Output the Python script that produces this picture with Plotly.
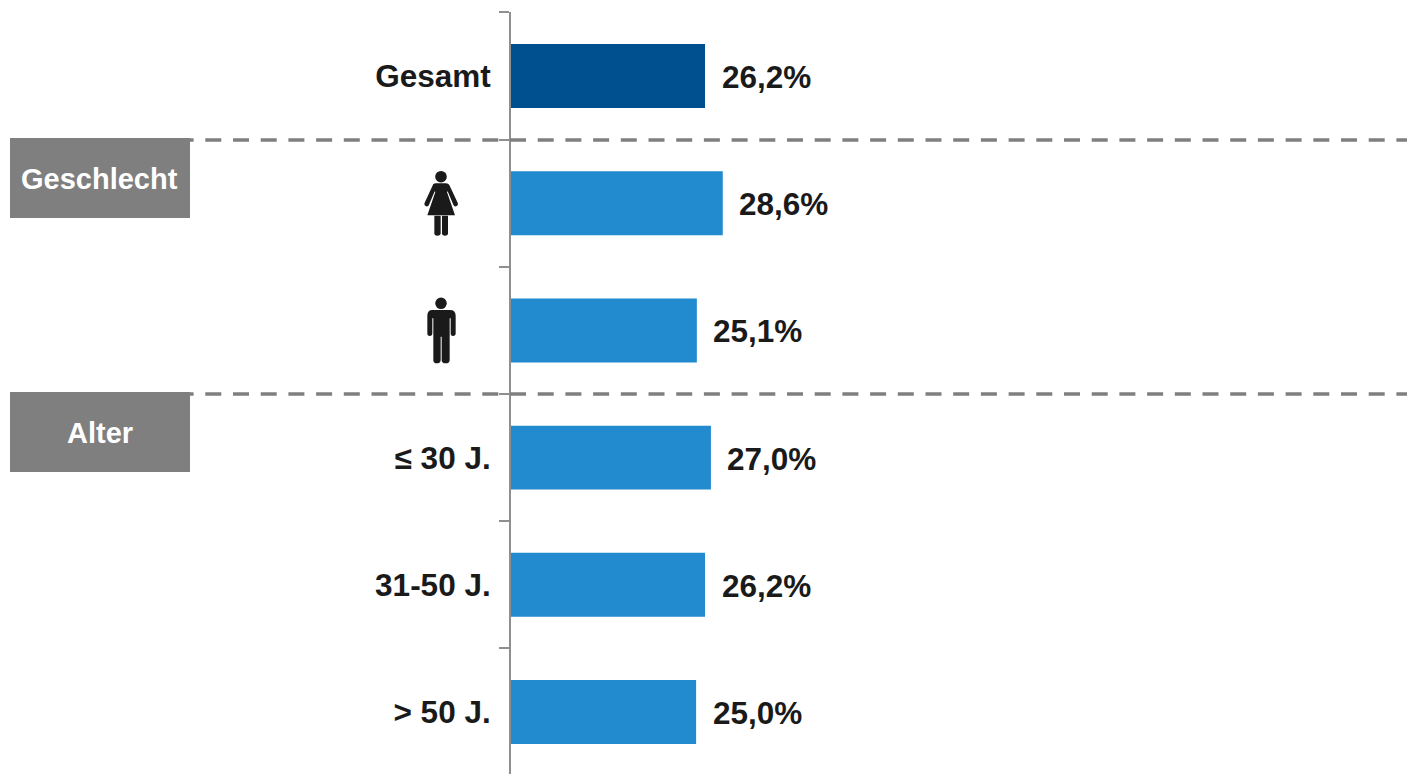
import re
import plotly.graph_objects as go

W, H = 1407, 774
categories = ["Gesamt", "Frauen", "Männer", "≤ 30 J.", "31-50 J.", "> 50 J."]
tick_labels = ["Gesamt", "", "", "≤ 30 J.", "31-50 J.", "> 50 J."]
values = [26.2, 28.6, 25.1, 27.0, 26.2, 25.0]
value_labels = ["26,2%", "28,6%", "25,1%", "27,0%", "26,2%", "25,0%"]
bar_colors = ["#00508f", "#228bcf", "#228bcf", "#228bcf", "#228bcf", "#228bcf"]
group_names = ["Geschlecht", "Alter"]

FONT = "Liberation Sans"
TEXT = "#1a1a1a"
GREY = "#7f7f7f"
AXIS = "#8f8f8f"


def px(x):
    return x / W


def py(y):
    return 1 - y / H


def icon_path(d, ox=400, oy=150, s=3):
    """Convert a path drawn in crop pixels to paper coordinates."""
    nums = iter(re.findall(r"[A-Z]|[\d.]+", d))
    out = []
    is_x = True
    for tok in nums:
        if tok.isalpha():
            out.append(tok)
            is_x = True
        elif is_x:
            out.append(f"{px(ox + float(tok) / s):.6f},")
            is_x = False
        else:
            out.append(f"{py(oy + float(tok) / s):.6f} ")
            is_x = True
    return "".join(out)


WOMAN = [
    "M100,102 Q103,100 108,100 L138,100 Q145,100 148,105 L173,158 Q176,166 168,169 Q162,170 160,164 "
    "L143,124 L141,126 L165,196 L82,196 L106,126 L104,124 L87,164 Q85,170 79,169 Q71,166 74,158 Z",
    "M103,197 L122,197 L122,250 Q122,257 112,257 Q103,257 103,250 Z",
    "M126,197 L144,197 L144,250 Q144,257 135,257 Q126,257 126,250 Z",
]
MAN = [
    "M97,480 L150,480 Q167,480 167,497 L167,550 Q167,558 159,558 Q152,558 152,550 L152,505 L149,505 "
    "L149,630 Q149,640 137,640 Q125,640 125,630 L125,560 L122,560 L122,630 Q122,640 110,640 "
    "Q100,640 100,630 L100,505 L97,505 L97,550 Q97,558 89,558 Q82,558 82,550 L82,497 Q82,480 97,480 Z",
]

fig = go.Figure(
    go.Bar(
        x=values,
        y=categories,
        orientation="h",
        marker=dict(color=bar_colors, line=dict(width=0)),
        hoverinfo="skip",
    )
)

shapes = []
# dashed separators
for y in (140, 394):
    shapes.append(dict(type="line", xref="paper", yref="paper", x0=px(11.4), x1=1, y0=py(y), y1=py(y),
                       line=dict(color=GREY, width=3.5, dash="16px,11.7px"), layer="above"))
# group boxes
annotations = []
for name, top in zip(group_names, (138, 392)):
    shapes.append(dict(type="rect", xref="paper", yref="paper", x0=px(10), x1=px(190), y0=py(top), y1=py(top + 80),
                       fillcolor=GREY, line=dict(width=0), layer="above"))
    annotations.append(dict(xref="paper", yref="paper", x=px(99.5), y=py(top + 41), text=f"<b>{name}</b>",
                            showarrow=False, xanchor="center", yanchor="middle",
                            font=dict(family=FONT, size=29, color="white")))
# gender icons
for d in WOMAN + MAN:
    shapes.append(dict(type="path", xref="paper", yref="paper", path=icon_path(d),
                       fillcolor=TEXT, line=dict(width=0), layer="above"))
for cy in (176.7, 303.3):
    shapes.append(dict(type="circle", xref="paper", yref="paper", x0=px(441 - 5.8), x1=px(441 + 5.8),
                       y0=py(cy - 5.8), y1=py(cy + 5.8), fillcolor=TEXT, line=dict(width=0), layer="above"))
# value labels
for cat, val, lab in zip(categories, values, value_labels):
    annotations.append(dict(xref="x", yref="y", x=val, y=cat, text=f"<b>{lab}</b>", showarrow=False,
                            xanchor="left", yanchor="middle", xshift=14.5, yshift=-1,
                            font=dict(family=FONT, size=31.5, color=TEXT)))

x0_px = 511
scale = (705 - x0_px) / 26.2
fig.update_layout(
    width=W,
    height=H,
    autosize=False,
    margin=dict(l=0, r=0, t=0, b=0, pad=0),
    paper_bgcolor="white",
    plot_bgcolor="white",
    showlegend=False,
    bargap=0.497,
    shapes=shapes,
    annotations=annotations,
    xaxis=dict(domain=[px(x0_px), 1], range=[0, (W - x0_px) / scale], visible=False),
    yaxis=dict(
        type="category",
        categoryorder="array",
        categoryarray=categories,
        tickvals=categories,
        ticktext=[f"<b>{t}</b>" if t else "" for t in tick_labels],
        tickson="boundaries",
        domain=[0, py(12.4)],
        range=[5.487, -0.5],
        ticks="outside",
        ticklen=10,
        tickwidth=2,
        tickcolor=AXIS,
        showline=True,
        linecolor=AXIS,
        linewidth=2,
        showgrid=False,
        zeroline=False,
        ticklabelstandoff=12,
        tickfont=dict(family=FONT, size=31.5, color=TEXT),
    ),
)

fig.write_html("out.html", post_script="document.body.style.margin='0';", config=dict(displayModeBar=False))
